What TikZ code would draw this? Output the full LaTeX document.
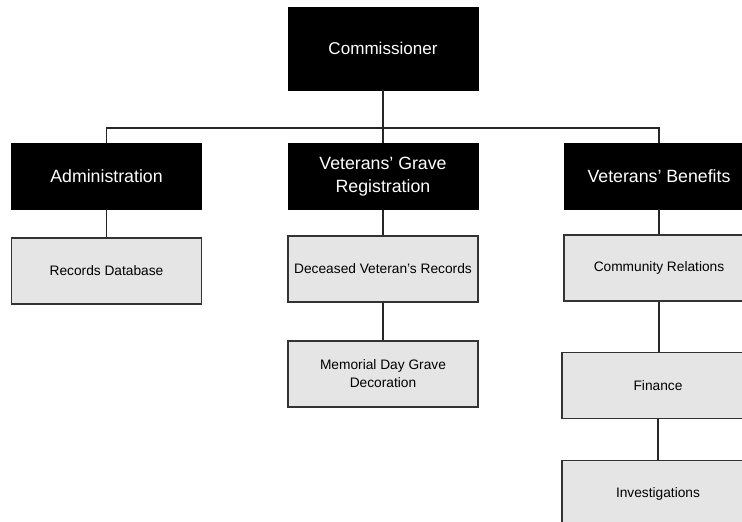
\documentclass[tikz,border=0pt]{standalone}
\usepackage{fontspec}
\setmainfont{Liberation Sans}
\usepackage{tikz}
\usetikzlibrary{positioning}

\tikzset{
	head/.style={rectangle, fill=black, draw=black, text=white, minimum width=142.5pt,
		minimum height=49.5pt, inner sep=2pt, align=center,
		font=\fontsize{13.3}{17.25}\selectfont},
	unit/.style={rectangle, fill=black!10, draw=black!80, line width=0.8pt,
		minimum width=142.5pt, minimum height=49.5pt, inner sep=1pt, align=center,
		font=\fontsize{10.3}{13.5}\selectfont},
	link/.style={draw=black!85, line width=1.1pt}
}

\begin{document}
\begin{tikzpicture}[x=0.75pt, y=-0.75pt]
		\clip (0,0) rectangle (742,521);
		\useasboundingbox (0,0) rectangle (742,521);
		\coordinate (bus) at (0,128);
		\draw 
			(383,48.5) node [head, minimum height=62.25pt, font=\fontsize{12.8}{16}\selectfont] (comm) {Commissioner}
			(106.5,176.5) node [head] (admin) {Administration}
			(383,176.5) node [head] (vgr) {Veterans' Grave\\Registration}
			(659,176) node [head] (vb) {Veterans' Benefits}
			(106.5,271) node [unit] (recdb) {Records Database}
			(383,269) node [unit] (decrec) {Deceased Veteran's Records}
			(383,374) node [unit] (memday) {Memorial Day Grave\\Decoration}
			(659,268) node [unit] (comrel) {Community Relations}
			(658,385.5) node [unit, minimum width=144pt] (fin) {Finance}
			(658,493.5) node [unit, minimum width=144pt] (invest) {Investigations}
			;
		\draw[link]
			(comm.south) -- (comm.south |- bus)
			(admin.north) -- (admin.north |- bus) -- (vb.north |- bus) -- (vb.north)
			(vgr.north) -- (vgr.north |- bus)
			;
		\draw[link]
			(admin) edge (recdb)
			(vgr) edge (decrec)
			(decrec) edge (memday)
			(vb) edge (comrel)
			(comrel) edge (comrel |- fin.north)
			(fin) edge (invest)
			;
	\end{tikzpicture}
\end{document}
